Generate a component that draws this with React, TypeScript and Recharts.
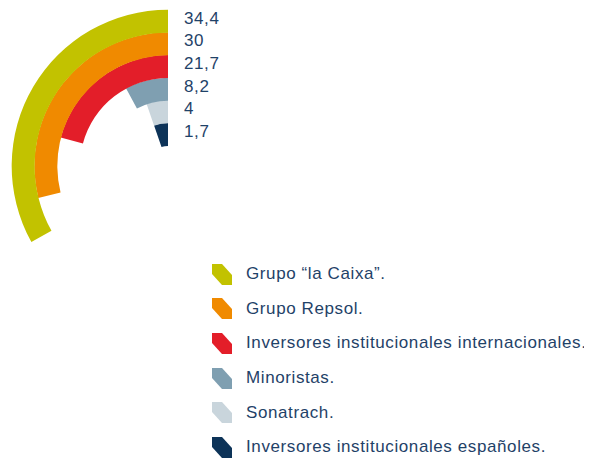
import React from 'react';
import {
  RadialBarChart,
  RadialBar,
  PolarAngleAxis,
  Legend,
  LabelList,
  Cell,
} from 'recharts';

// Data (innermost first)
const categories = [
  'Inversores institucionales españoles.',
  'Sonatrach.',
  'Minoristas.',
  'Inversores institucionales internacionales.',
  'Grupo Repsol.',
  'Grupo “la Caixa”.',
];
const shares = [1.7, 4, 8.2, 21.7, 30, 34.4];
const colors = ['#0d3358', '#c9d5dc', '#7f9fb1', '#e31e29', '#f08a00', '#c2c200'];

const chartData = categories.map((name, i) => ({
  name,
  value: shares[i],
  fill: colors[i],
}));

const legendOrder = [...chartData].reverse();

const TEXT_COLOR = '#1f4268';
const FONT = '"Liberation Sans", Arial, sans-serif';

const renderValueLabel = (props: any) => {
  const { viewBox, value } = props;
  if (!viewBox) return null;
  const { cx, cy, innerRadius, outerRadius } = viewBox;
  const y = cy - (innerRadius + outerRadius) / 2 - 3;
  return (
    <text
      x={cx + 16}
      y={y}
      dominantBaseline="central"
      fill={TEXT_COLOR}
      fontSize={17}
      letterSpacing={0.6}
      fontFamily={FONT}
    >
      {String(value).replace('.', ',')}
    </text>
  );
};

const LegendIcon = ({ color }: { color: string }) => (
  <svg width={20} height={21} style={{ display: 'block', flexShrink: 0 }}>
    <polygon points="0,0 10,0 20,11 20,21 10,21 0,10" fill={color} />
  </svg>
);

const renderLegend = () => (
  <div>
    {legendOrder.map((d) => (
      <div
        key={d.name}
        style={{ display: 'flex', alignItems: 'center', height: 34.6 }}
      >
        <LegendIcon color={d.fill} />
        <span
          style={{
            marginLeft: 14,
            fontFamily: FONT,
            fontSize: 17,
            letterSpacing: 0.6,
            color: TEXT_COLOR,
            whiteSpace: 'nowrap',
          }}
        >
          {d.name}
        </span>
      </div>
    ))}
  </div>
);

const App: React.FC = () => {
  return (
    <RadialBarChart
      width={576}
      height={450}
      data={chartData}
      cx={160}
      cy={158}
      innerRadius={20}
      outerRadius={156}
      startAngle={90}
      endAngle={450}
      barCategoryGap={0}
      margin={{ top: 0, right: 0, bottom: 0, left: 0 }}
    >
      <PolarAngleAxis type="number" domain={[0, 104]} tick={false} axisLine={false} />
      <RadialBar dataKey="value" minPointSize={19} isAnimationActive={false}>
        {chartData.map((d) => (
          <Cell key={d.name} fill={d.fill} />
        ))}
        <LabelList dataKey="value" content={renderValueLabel} />
      </RadialBar>
      <Legend
        content={renderLegend}
        layout="vertical"
        wrapperStyle={{ position: 'absolute', left: 204, top: 249, width: 380 }}
      />
    </RadialBarChart>
  );
};

export default App;
